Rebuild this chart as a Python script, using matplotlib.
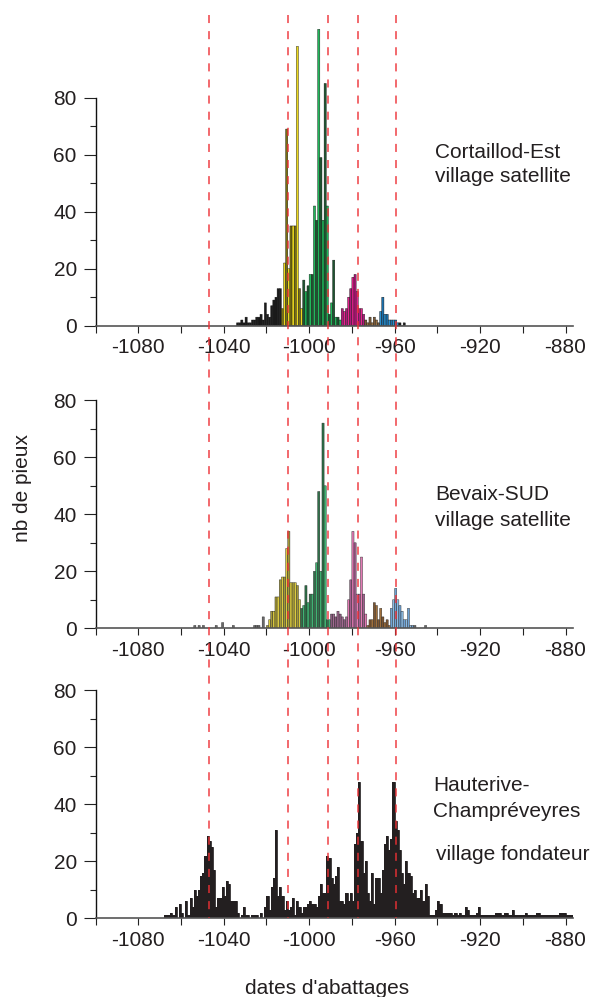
import numpy as np
import matplotlib
matplotlib.use("Agg")
import matplotlib.pyplot as plt
from matplotlib.lines import Line2D
from matplotlib.ticker import FixedLocator
from matplotlib.transforms import blended_transform_factory

plt.rcParams['font.family'] = ['Liberation Sans', 'DejaVu Sans']
plt.rcParams['lines.scale_dashes'] = False
plt.rcParams['axes.unicode_minus'] = False

# red dashed reference dates
ref_dates = [-1047, -1010, -991, -977, -959.5]

# axis ticks
x_labels = [-1080, -1040, -1000, -960, -920, -880]
x_minor = [-1100, -1060, -1020, -980, -940, -900]
y_major = [0, 20, 40, 60, 80]
y_minor = [10, 30, 50, 70]

# Cortaillod-Est, village satellite (one bar per year)
cortaillod_start = -1034
cortaillod_counts = [
    1, 1, 2, 1, 3, 1, 1, 2, 2, 3, 3, 4, 2, 8, 4, 3, 7, 9, 10, 13, 13,
    6, 22, 69, 20, 35, 35, 35, 98, 13, 6,
    16, 12, 14, 18, 18, 42, 37, 104, 59, 37, 85, 42, 4, 8, 23, 3, 3, 2,
    6, 5, 6, 10, 13, 17, 18, 12, 6, 6, 4,
    2, 1, 3, 1, 3, 2, 1,
    5, 10, 4, 4, 2, 2, 2, 2, 1,
    1, 0, 1,
]
cortaillod_phases = [(-1034, 'black'), (-1013, 'yellow'), (-1003, 'green'),
                     (-985, 'magenta'), (-974, 'brown'), (-967, 'blue'),
                     (-958, 'black')]

# Bevaix-SUD, village satellite
bevaix_start = -1054
bevaix_counts = [
    1, 0, 1, 0, 1, 0, 0, 0, 0, 0, 1, 0, 0, 2, 0, 0, 0, 0, 1, 0,
    0, 0, 0, 0, 0, 0, 0, 0, 1, 1, 1, 0, 4, 0,
    1, 3, 6, 6, 11, 11, 17, 18, 18, 28, 34, 16, 16, 16, 15, 10,
    7, 8, 15, 9, 12, 12, 20, 23, 48, 20, 72, 50, 3, 3,
    5, 5, 4, 6, 5, 4, 3, 4,
    10, 17, 34, 30, 12, 12, 25, 12, 5,
    1, 3, 3, 9, 8, 3, 7, 4, 2, 3, 1,
    7, 10, 14, 10, 8, 6, 3, 3, 7, 1, 1,
    1, 0, 0, 0, 0, 1,
]
bevaix_phases = [(-1054, 'grey'), (-1020, 'yellow'), (-1004, 'green'),
                 (-990, 'mauve'), (-982, 'pink'), (-973, 'brown'),
                 (-962, 'blue'), (-951, 'grey')]

# Hauterive-Champreveyres, village fondateur
hauterive_start = -1068
hauterive_counts = [
    1, 1, 1, 2, 1, 4, 0, 5, 2, 0,
    6, 1, 7, 4, 10, 8, 10, 15, 16, 22,
    29, 27, 25, 17, 4, 7, 7, 11, 8, 13,
    12, 6, 6, 6, 2, 0, 1, 4, 1, 1,
    0, 1, 1, 1, 0, 2, 0, 4, 8, 3,
    11, 14, 31, 8, 11, 8, 3, 6, 3, 4,
    7, 1, 6, 4, 2, 4, 4, 5, 6, 5,
    5, 4, 8, 12, 9, 9, 22, 21, 14, 12,
    15, 18, 6, 6, 5, 9, 6, 9, 6, 26,
    30, 48, 27, 16, 20, 9, 6, 16, 5, 14,
    14, 9, 17, 26, 29, 24, 28, 48, 34, 31,
    24, 16, 12, 20, 16, 15, 9, 10, 7, 7,
    10, 6, 12, 8, 1, 1, 1, 3, 6, 5,
    2, 2, 2, 2, 2, 1, 2, 1, 2, 1,
    1, 4, 3, 1, 1, 1, 2, 4, 1, 1,
    1, 1, 1, 1, 1, 2, 2, 2, 1, 2,
    2, 1, 1, 3, 1, 1, 1, 1, 1, 2,
    1, 1, 1, 1, 2, 2, 1, 1, 1, 1,
    1, 1, 1, 1, 1, 2, 2, 2, 1, 1,
    1, 1,
]

# (even year, odd year) shades for each phase
pal_cortaillod = {
    'black': ('#1c1c1c', '#1c1c1c'),
    'yellow': ('#ecd91c', '#7a7010'),
    'green': ('#1fb85a', '#1d5530'),
    'magenta': ('#e6228f', '#b0167a'),
    'brown': ('#7b5a36', '#9b7445'),
    'blue': ('#1a70ad', '#2a90d0'),
}
pal_bevaix = {
    'grey': ('#6a6a6a', '#6a6a6a'),
    'yellow': ('#a39838', '#dccb3e'),
    'green': ('#2f7149', '#3fb472'),
    'mauve': ('#8a5a7e', '#a06a90'),
    'pink': ('#e27ab4', '#a25e8e'),
    'brown': ('#7d5530', '#a0703c'),
    'blue': ('#6ea2d4', '#8cbbe4'),
}
DARK = '#231f20'
TXT = '#231f20'


def draw_panel(ax, start, counts, phases, palette, edge, lw):
    years = start + np.arange(len(counts))
    colors = []
    for y in years:
        name = [p for s, p in phases if s <= y][-1]
        colors.append(palette[name][int(y) % 2])
    bars = ax.bar(years, counts, width=1, align='edge', color=colors,
                  edgecolor=edge, linewidth=lw, zorder=2)
    for b in bars:
        b.set_snap(False)


def style_axis(ax):
    ax.set_xlim(-1100, -876.5)
    ax.set_ylim(0, 110)
    ax.patch.set_alpha(0)
    for s in ['top', 'right']:
        ax.spines[s].set_visible(False)
    ax.spines['left'].set_bounds(0, 80)
    ax.spines['left'].set_color('#111111')
    ax.spines['left'].set_linewidth(1.0)
    ax.spines['bottom'].set_color('#555555')
    ax.spines['bottom'].set_linewidth(1.2)
    ax.spines['bottom'].set_zorder(3)
    ax.yaxis.set_major_locator(FixedLocator(y_major))
    ax.yaxis.set_minor_locator(FixedLocator(y_minor))
    ax.xaxis.set_major_locator(FixedLocator(x_labels))
    ax.xaxis.set_minor_locator(FixedLocator(x_minor))
    ax.tick_params(axis='y', which='major', length=8.5, width=0.8,
                   pad=5, labelsize=15, colors='#222222', labelcolor=TXT)
    ax.tick_params(axis='y', which='minor', length=4.3, width=0.8,
                   colors='#222222')
    ax.tick_params(axis='x', which='both', length=5, width=0.8,
                   colors='#222222')
    ax.tick_params(axis='x', which='major', pad=4, labelsize=15,
                   labelcolor=TXT)


fig = plt.figure(figsize=(5.95, 9.97), dpi=100)
H = 997.0
left = 95.5 / 595
width = (573.0 - 95.5) / 595
height = 110 * 2.85 / H
bottoms = [1 - 325.7 / H, 1 - 628.3 / H, 1 - 918.3 / H]

axes = [fig.add_axes([left, b, width, height]) for b in bottoms]

draw_panel(axes[0], cortaillod_start, cortaillod_counts, cortaillod_phases,
           pal_cortaillod, '#111111', 0.3)
draw_panel(axes[1], bevaix_start, bevaix_counts, bevaix_phases,
           pal_bevaix, '#222222', 0.3)

# founding village: solid dark histogram
h_edges = hauterive_start + np.arange(len(hauterive_counts) + 1)
axes[2].stairs(hauterive_counts, h_edges, fill=True, color=DARK, zorder=2)
axes[2].stairs(hauterive_counts, h_edges, color=DARK, linewidth=0.6, zorder=2)

for ax in axes:
    style_axis(ax)

# panel titles
fig.text(435 / 595, 1 - 152 / H, 'Cortaillod-Est', fontsize=15, color=TXT,
         ha='left', va='center')
fig.text(435 / 595, 1 - 177 / H, 'village satellite', fontsize=15, color=TXT,
         ha='left', va='center')
fig.text(435 / 595, 1 - 494 / H, 'Bevaix-SUD', fontsize=15, color=TXT,
         ha='left', va='center')
fig.text(435 / 595, 1 - 520 / H, 'village satellite', fontsize=15, color=TXT,
         ha='left', va='center')
fig.text(433 / 595, 1 - 785 / H, 'Hauterive-', fontsize=15, color=TXT,
         ha='left', va='center')
fig.text(433 / 595, 1 - 811 / H, 'Champréveyres', fontsize=15, color=TXT,
         ha='left', va='center')
fig.text(436 / 595, 1 - 855 / H, 'village fondateur', fontsize=15, color=TXT,
         ha='left', va='center')

fig.text(23 / 595, 1 - 488 / H, 'nb de pieux', fontsize=15, color=TXT,
         rotation=90, ha='center', va='center')
fig.text(327 / 595, 1 - 988 / H, "dates d'abattages", fontsize=15, color=TXT,
         ha='center', va='center')

# dashed reference lines running through all three panels
trans = blended_transform_factory(axes[0].transData, fig.transFigure)
for d in ref_dates:
    fig.add_artist(Line2D([d, d], [1 - 15 / H, 1 - 918 / H], transform=trans,
                          color='#ee3035', alpha=0.85, linewidth=1.2,
                          linestyle=(0, (5.8, 5.8)), zorder=5))

fig.savefig('out.png', dpi=100)
